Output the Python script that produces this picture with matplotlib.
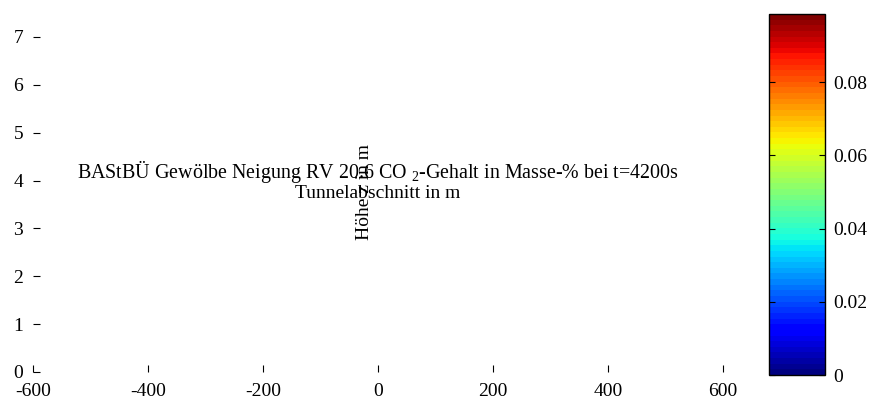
import matplotlib
matplotlib.use("Agg")
import matplotlib.pyplot as plt
import matplotlib.cm as cm
import matplotlib.colors as mcolors
import numpy as np

plt.rcParams['font.family'] = ['Liberation Serif', 'DejaVu Serif']
plt.rcParams['mathtext.fontset'] = 'custom'
plt.rcParams['mathtext.rm'] = 'Liberation Serif'
plt.rcParams['mathtext.it'] = 'Liberation Serif'
plt.rcParams['axes.unicode_minus'] = False

# axis data
x_ticks = [-600, -400, -200, 0, 200, 400, 600]
y_ticks = [0, 1, 2, 3, 4, 5, 6, 7]
x_limits = [-600, 600]
y_limits = [0, 7.5]

# CO2 colour scale
co2_min = 0.0
co2_max = 0.0986
n_levels = 64
cbar_ticks = [0, 0.02, 0.04, 0.06, 0.08]

title = "BAStBÜ Gewölbe Neigung RV 20.6 CO $_2$-Gehalt in Masse-% bei t=4200s"
xlabel = "Tunnelabschnitt in m"
ylabel = "Höhe z in m"
fs = 14

fig = plt.figure(figsize=(8.71, 4.01), dpi=100)
ax = fig.add_axes([33/871, 29/401, 690/871, 359/401])
ax.set_xlim(x_limits)
ax.set_ylim(y_limits)
ax.set_xticks(x_ticks)
ax.set_yticks(y_ticks)
for s in ax.spines.values():
    s.set_visible(False)
ax.tick_params(direction='in', length=5, labelsize=fs)
ax.tick_params(axis='y', pad=7)
ax.tick_params(axis='x', pad=8)

# labels all end up in the middle of the plot, as in the original export
ax.annotate(title, (0.5, 0.5), xycoords='axes fraction', xytext=(0, 10.4),
            textcoords='offset points', ha='center', va='baseline', fontsize=14.4)
ax.annotate(xlabel, (0.5, 0.5), xycoords='axes fraction', xytext=(0, -4),
            textcoords='offset points', ha='center', va='baseline', fontsize=fs)
ax.annotate(ylabel, (0.5, 0.5), xycoords='axes fraction', xytext=(-9.4, 0),
            textcoords='offset points', ha='center', va='center',
            rotation=90, fontsize=fs)

# colorbar
cax = fig.add_axes([769/871, 26/401, 56/871, 361/401])
bounds = np.linspace(co2_min, co2_max, n_levels + 1)
cmap = plt.get_cmap('jet', n_levels)
norm = mcolors.BoundaryNorm(bounds, cmap.N)
sm = cm.ScalarMappable(norm=norm, cmap=cmap)
cb = fig.colorbar(sm, cax=cax, ticks=cbar_ticks, format='%g')
cb.minorticks_off()
cb.outline.set_linewidth(1.0)
cax.tick_params(direction='in', length=4, labelsize=fs, left=True, right=True, pad=6)

fig.savefig("out.png", dpi=100)
